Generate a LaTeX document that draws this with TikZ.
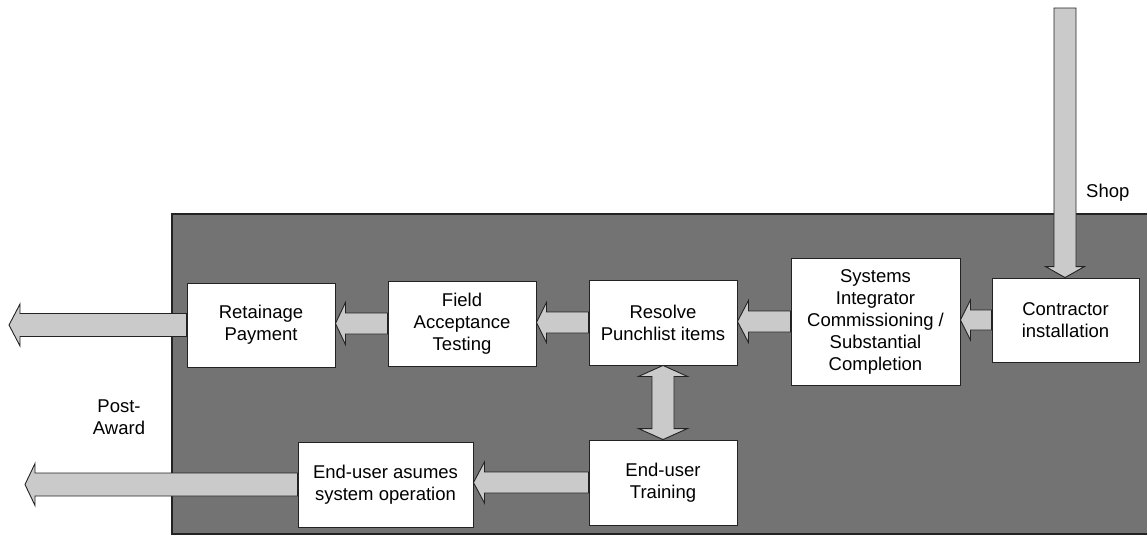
\documentclass[tikz,border=0pt]{standalone}
\usepackage{fontspec}
\setmainfont{Liberation Sans}
\usetikzlibrary{calc}
\definecolor{panel}{RGB}{115,115,115}
\definecolor{arrowfill}{RGB}{202,202,202}
\definecolor{edge}{RGB}{35,35,35}
\tikzset{
  box/.style={draw=edge, line width=0.9pt, fill=white, inner sep=0pt, align=center,
    font=\fontsize{18.5}{22}\selectfont},
  blk/.style={draw=edge, line width=0.9pt, fill=arrowfill, line join=miter},
  lbl/.style={font=\fontsize{18.5}{22}\selectfont, align=center, inner sep=0pt}
}
% leftward block arrow: #1 tail point, #2 tip point (tip takes the tail's height)
\newcommand\blockLeft[5]{% #1 tail, #2 tip x-ref, #3 shaft half, #4 head half, #5 head length
  \coordinate (bt) at (#1);
  \coordinate (bh) at (#2 |- #1);
  \draw[blk] ($(bt)+(0,-#3)$) -- ($(bh)+(#5,-#3)$) -- ($(bh)+(#5,-#4)$) -- (bh)
    -- ($(bh)+(#5,#4)$) -- ($(bh)+(#5,#3)$) -- ($(bt)+(0,#3)$) -- cycle;}
\begin{document}
\begin{tikzpicture}[x=1pt,y=-1pt]
\useasboundingbox (0,0) rectangle (1147,536);

% shaded field
\fill[panel] (172,214) rectangle (1147,534);
\draw[edge, line width=1.3pt] (1147,214) -- (172,214) -- (172,534) -- (1147,534);

% process boxes
\node[box, minimum width=148pt, minimum height=84pt] (ret) at (261,325) {Retainage\\Payment};
\node[box, minimum width=148pt, minimum height=85pt] (fat) at (462,323.5) {Field\\Acceptance\\Testing};
\node[box, minimum width=148pt, minimum height=85pt] (res) at (663,322.5) {Resolve\\Punchlist items};
\node[box, minimum width=169pt, minimum height=127pt] (sys) at (875.5,321.5) {Systems\\Integrator\\Commissioning /\\Substantial\\Completion};
\node[box, minimum width=147pt, minimum height=84pt] (con) at (1065.5,320) {Contractor\\installation};
\node[box, minimum width=148pt, minimum height=85pt] (trn) at (663,482.5) {End-user\\Training};
\node[box, minimum width=175pt, minimum height=85pt] (eua) at (385.5,484.5) {End-user asumes\\system operation};

% free labels
\node[lbl] (post) at (119,417.5) {Post-\\Award};
\node[lbl, anchor=west] (shop) at (1086,193) {Shop};

% outgoing ends
\coordinate (out1) at (9,325);
\coordinate (out2) at (25,484.5);
\coordinate (shoptop) at (1065,8);

% flow arrows
\blockLeft{con.west}{sys.east}{10}{20}{10}
\blockLeft{sys.west}{res.east}{10.5}{21}{11}
\blockLeft{res.west}{fat.east}{10.5}{20}{10}
\blockLeft{fat.west}{ret.east}{10.5}{21}{10}
\blockLeft{ret.west}{out1}{11.5}{21}{11}
\blockLeft{trn.west}{eua.east}{10.5}{20.5}{11}
\blockLeft{eua.west}{out2}{11.5}{21}{10}

% shop delivery arrow
\coordinate (sa) at (shoptop);
\coordinate (sb) at (con.north -| shoptop);
\draw[blk] ($(sa)+(-11,0)$) -- ($(sb)+(-11,-11)$) -- ($(sb)+(-19.5,-11)$) -- (sb)
  -- ($(sb)+(19.5,-11)$) -- ($(sb)+(11,-11)$) -- ($(sa)+(11,0)$) -- cycle;

% two-way link between punchlist and training
\coordinate (da) at (res.south);
\coordinate (db) at (trn.north);
\draw[blk] (da) -- ($(da)+(24.5,11)$) -- ($(da)+(11,11)$) -- ($(db)+(11,-11)$)
  -- ($(db)+(24.5,-11)$) -- (db) -- ($(db)+(-24.5,-11)$) -- ($(db)+(-11,-11)$)
  -- ($(da)+(-11,11)$) -- ($(da)+(-24.5,11)$) -- cycle;
\end{tikzpicture}
\end{document}
